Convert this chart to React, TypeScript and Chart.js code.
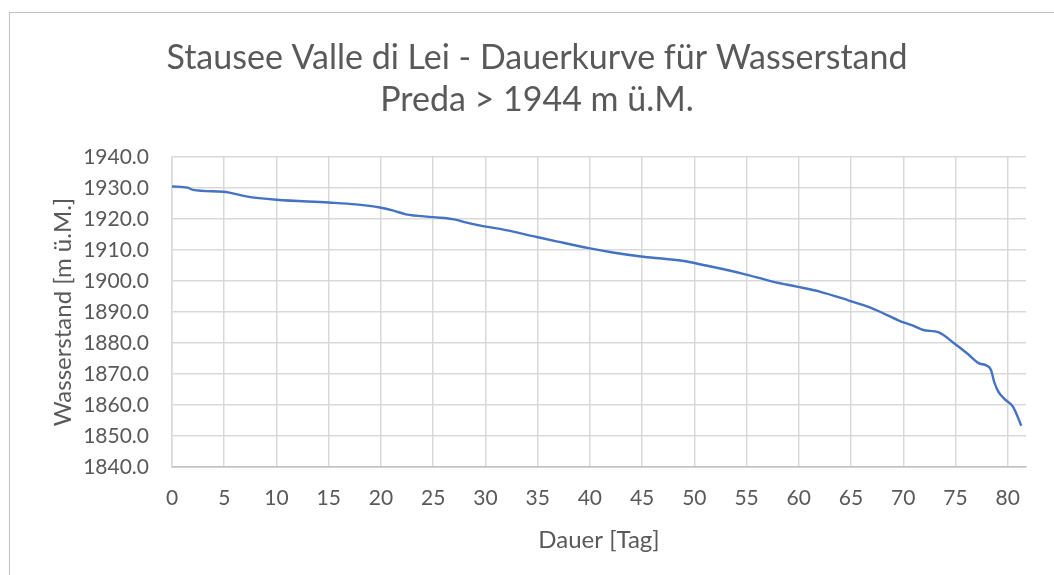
import React, { useEffect, useRef } from "react";
import { Chart, registerables } from "chart.js";

Chart.register(...registerables);

const titleLines = ["Stausee Valle di Lei - Dauerkurve für Wasserstand", "Preda > 1944 m ü.M."];
const xTitle = "Dauer [Tag]";
const yTitle = "Wasserstand [m ü.M.]";

const durationDays = [
  0, 1.5, 2.0, 4.9, 5.5, 7.1, 10.0, 15.0, 17.6, 19.9, 21.2, 22.4, 25.0, 27.0, 28.0,
  29.9, 31.4, 34.9, 36.8, 39.9, 42.2, 44.9, 47.3, 49.3, 50.0, 54.6, 57.5, 59.8, 62.0,
  64.8, 66.8, 68.4, 69.8, 70.8, 71.9, 73.4, 74.8, 76.1, 77.2, 78.0, 78.4, 78.7, 79.1,
  79.7, 80.5, 81.3,
];
const waterLevel = [
  1930.5, 1930.1, 1929.4, 1928.8, 1928.5, 1927.3, 1926.2, 1925.3, 1924.7, 1923.7, 1922.7,
  1921.5, 1920.6, 1919.9, 1919.0, 1917.6, 1916.8, 1914.2, 1912.8, 1910.6, 1909.2, 1907.9,
  1907.1, 1906.3, 1905.8, 1902.4, 1899.8, 1898.2, 1896.6, 1893.7, 1891.5, 1889.1, 1886.9,
  1885.8, 1884.2, 1883.4, 1880.1, 1876.7, 1873.5, 1872.7, 1871.3, 1867.5, 1864.3, 1861.9,
  1859.5, 1853.3,
];

const xMin = 0;
const xMax = 81.75;
const xStep = 5;
const yMin = 1840;
const yMax = 1940;
const yStep = 10;

const FONT = "Lato, 'Noto Sans', sans-serif";
const TEXT = "#595959";
const GRID = "#d9d9d9";

export default function App() {
  const ref = useRef<HTMLCanvasElement | null>(null);

  useEffect(() => {
    const canvas = ref.current;
    if (!canvas) return;
    const points = durationDays.map((x, i) => ({ x, y: waterLevel[i] }));
    const chart = new Chart(canvas, {
      type: "scatter",
      data: {
        datasets: [
          {
            data: points,
            showLine: true,
            borderColor: "#4472c4",
            backgroundColor: "#4472c4",
            borderWidth: 2.4,
            pointRadius: 0,
            cubicInterpolationMode: "monotone",
          },
        ],
      },
      options: {
        animation: false,
        responsive: false,
        maintainAspectRatio: false,
        layout: { padding: { left: 48, right: 28, top: 0, bottom: 0 } },
        plugins: {
          legend: { display: false },
          tooltip: { enabled: false },
          title: {
            display: true,
            text: titleLines,
            color: TEXT,
            font: { family: FONT, size: 34, weight: "normal", lineHeight: 42 / 34 },
            padding: { top: 37, bottom: 36 },
          },
        },
        scales: {
          x: {
            type: "linear",
            min: xMin,
            max: xMax,
            afterFit: (s: any) => {
              s.height = 108;
            },
            ticks: {
              stepSize: xStep,
              includeBounds: false,
              color: TEXT,
              padding: 19,
              font: { family: FONT, size: 21, lineHeight: 1.2 },
              maxRotation: 0,
            },
            grid: { color: GRID, lineWidth: 1.5, drawTicks: false },
            border: { color: "#bfbfbf", width: 1.5 },
            title: {
              display: true,
              text: xTitle,
              color: TEXT,
              font: { family: FONT, size: 24, lineHeight: 1.2 },
              padding: { top: 0, bottom: 20.6 },
            },
          },
          y: {
            type: "linear",
            min: yMin,
            max: yMax,
            afterFit: (s: any) => {
              s.width = 124;
            },
            ticks: {
              stepSize: yStep,
              color: TEXT,
              padding: 23,
              font: { family: FONT, size: 21, lineHeight: 1.2 },
              callback: (v: any) => Number(v).toFixed(1),
            },
            grid: { color: GRID, lineWidth: 1.5, drawTicks: false },
            border: { color: GRID, width: 1.5 },
            title: {
              display: true,
              text: yTitle,
              color: TEXT,
              font: { family: FONT, size: 24, lineHeight: 1.2 },
              padding: { top: 0.6, bottom: 0 },
            },
          },
        },
      },
    });
    return () => chart.destroy();
  }, []);

  return (
    <div style={{ position: "absolute", left: 0, top: 0, width: 1054, height: 575, background: "#fff", overflow: "hidden" }}>
      <div
        style={{
          position: "absolute",
          left: 9,
          top: 12,
          width: 1045,
          height: 563,
          borderTop: "1.5px solid #bfbfbf",
          borderLeft: "1.5px solid #bfbfbf",
          boxSizing: "border-box",
        }}
      />
      <canvas ref={ref} width={1054} height={575} style={{ position: "absolute", left: 0, top: 0 }} />
    </div>
  );
}
